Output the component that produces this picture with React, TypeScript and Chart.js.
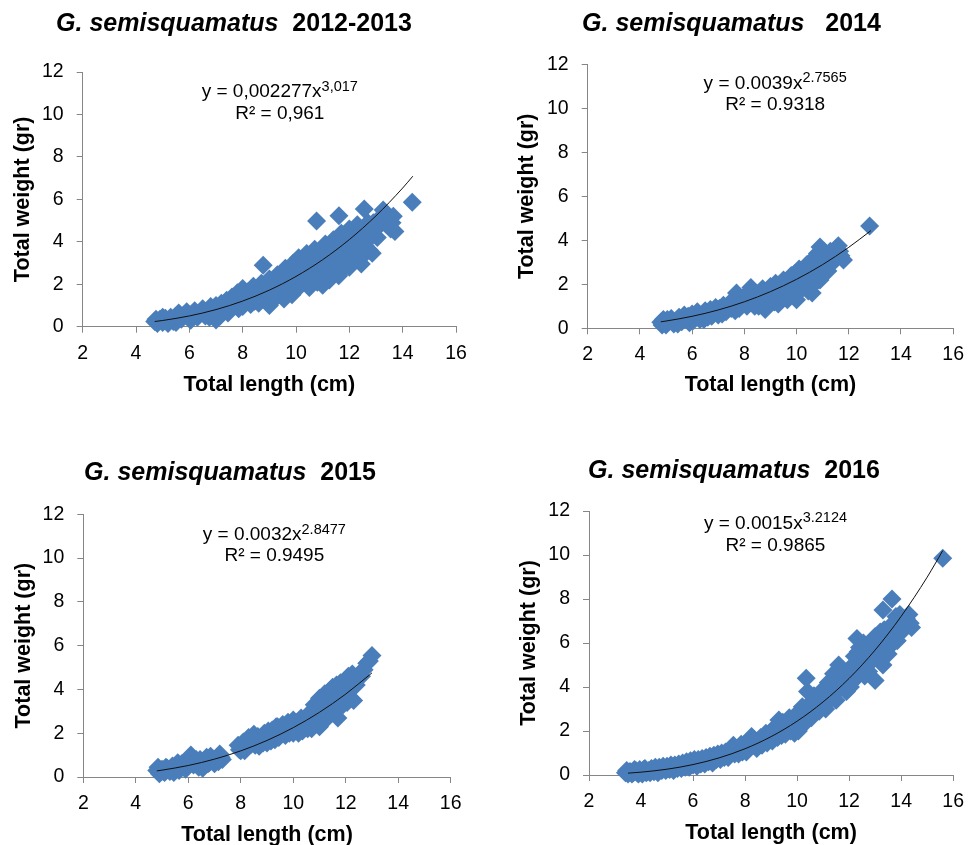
import React, { useEffect, useRef } from "react";
import { Chart, registerables } from "chart.js";

Chart.register(...registerables);

const FONT = '"Liberation Sans", Arial, sans-serif';
const BLUE = "#4a7ebb";
const AXIS = "#868686";

const xTicks = { min: 2, max: 16, step: 2 };
const yTicks = { min: 0, max: 12, step: 2 };
const xAxisTitle = "Total length (cm)";
const yAxisTitle = "Total weight (gr)";
const speciesName = "G. semisquamatus";

// ---- 2012-2013 ----
const points2012: [number, number][] = [
  [4.7, 0.25], [4.8, 0.15], [4.9, 0.35], [5.0, 0.2], [5.1, 0.4], [5.2, 0.15], [5.3, 0.45], [5.4, 0.25],
  [5.5, 0.5], [5.6, 0.65], [5.7, 0.35], [5.8, 0.55], [5.9, 0.7], [6.0, 0.4], [6.1, 0.6], [6.2, 0.75],
  [6.3, 0.45], [6.4, 0.65], [6.5, 0.85], [6.6, 0.5], [6.7, 0.7], [6.8, 0.95], [6.9, 0.55], [7.0, 0.32],
  [7.0, 1.0], [7.1, 0.75], [7.2, 1.1], [7.3, 0.8], [7.4, 1.25], [7.5, 0.9], [7.6, 1.4], [7.7, 1.05],
  [7.8, 1.6], [7.9, 1.2], [8.0, 1.8], [8.0, 0.95], [8.1, 1.35], [8.2, 1.65], [8.3, 1.05], [8.4, 1.9],
  [8.5, 1.45], [8.6, 1.1], [8.7, 2.05], [8.77, 2.9], [8.8, 1.6], [8.9, 1.2], [9.0, 2.25], [9.0, 1.0],
  [9.1, 1.8], [9.2, 1.4], [9.3, 2.45], [9.4, 2.0], [9.5, 1.6], [9.6, 2.75], [9.7, 2.2], [9.8, 1.8],
  [9.9, 3.0], [10.0, 2.5], [10.0, 1.75], [10.1, 3.25], [10.2, 2.1], [10.3, 2.8], [10.4, 3.45], [10.5, 1.85],
  [10.5, 2.5], [10.6, 3.05], [10.7, 3.65], [10.77, 4.98], [10.8, 2.1], [10.9, 2.8], [11.0, 3.5], [11.0, 1.95],
  [11.1, 3.9], [11.2, 2.5], [11.3, 3.2], [11.4, 4.1], [11.5, 2.65], [11.61, 5.23], [11.6, 3.6], [11.6, 2.4],
  [11.7, 4.4], [11.8, 3.0], [11.9, 3.9], [12.0, 4.6], [12.0, 2.8], [12.1, 3.4], [12.2, 4.2], [12.3, 4.8],
  [12.4, 3.2], [12.45, 2.95], [12.5, 4.4], [12.56, 5.55], [12.6, 3.8], [12.7, 4.9], [12.8, 4.2], [12.86, 3.46],
  [13.0, 4.6], [13.1, 5.0], [13.27, 5.5], [13.4, 4.8], [13.5, 5.1], [13.6, 4.9], [13.71, 4.48], [14.36, 5.86],
  [4.75, 0.35], [5.0, 0.45], [5.25, 0.3], [5.5, 0.2], [5.75, 0.5], [6.05, 0.3], [6.25, 0.55], [6.55, 0.6],
  [6.75, 0.45], [6.95, 0.8], [7.15, 0.5], [7.35, 1.0], [7.45, 0.65], [7.65, 1.2], [7.85, 0.85], [8.05, 1.5],
  [8.25, 1.25], [8.45, 1.2], [8.55, 1.75], [8.75, 1.35], [8.95, 1.6], [9.05, 1.95], [9.15, 1.25], [9.35, 1.75],
  [9.45, 2.3], [9.55, 1.3], [9.65, 2.0], [9.75, 2.5], [9.85, 1.5], [9.95, 2.3], [10.05, 2.8], [10.15, 1.9],
  [10.25, 2.5], [10.35, 3.1], [10.45, 2.2], [10.55, 3.3], [10.65, 2.4], [10.75, 2.9], [10.85, 3.5], [10.95, 2.3],
  [11.05, 3.1], [11.15, 3.6], [11.25, 2.2], [11.35, 2.9], [11.45, 3.7], [11.55, 3.1], [11.65, 4.0], [11.75, 2.7],
  [11.85, 3.5], [11.95, 4.3], [12.05, 3.1], [12.15, 3.9], [12.25, 4.6], [12.35, 3.6], [12.45, 4.1], [12.65, 4.4],
  [12.75, 3.6], [12.9, 4.9], [13.05, 4.2], [13.2, 5.2], [13.35, 5.25], [13.55, 4.6], [13.65, 5.2],
];
const trendX2012 = [4.7, 5, 6, 7, 8, 9, 10, 11, 12, 13, 14, 14.38];
const trendY2012 = [0.243, 0.293, 0.507, 0.807, 1.208, 1.723, 2.368, 3.157, 4.105, 5.225, 6.534, 7.09];

// ---- 2014 ----
const points2014: [number, number][] = [
  [4.8, 0.27], [4.9, 0.4], [5.0, 0.15], [5.1, 0.3], [5.2, 0.45], [5.3, 0.2], [5.4, 0.35], [5.5, 0.5],
  [5.6, 0.3], [5.7, 0.6], [5.8, 0.4], [5.9, 0.25], [6.0, 0.65], [6.1, 0.5], [6.2, 0.75], [6.3, 0.4],
  [6.4, 0.6], [6.5, 0.8], [6.6, 0.5], [6.7, 0.85], [6.8, 0.65], [6.9, 0.95], [7.0, 0.6], [7.1, 0.85],
  [7.2, 1.05], [7.3, 0.75], [7.4, 1.1], [7.5, 0.9], [7.6, 1.3], [7.7, 1.6], [7.8, 0.9], [7.9, 1.2],
  [8.0, 1.45], [8.1, 1.0], [8.25, 1.85], [8.3, 1.3], [8.4, 1.0], [8.5, 1.55], [8.6, 1.2], [8.7, 1.8],
  [8.8, 0.85], [8.9, 1.5], [9.0, 1.15], [9.0, 1.9], [9.1, 1.4], [9.2, 2.05], [9.3, 1.1], [9.4, 1.7],
  [9.5, 2.2], [9.6, 1.45], [9.7, 1.9], [9.8, 2.4], [9.9, 1.6], [10.0, 1.3], [10.0, 2.1], [10.1, 2.7],
  [10.2, 1.8], [10.3, 2.4], [10.4, 2.9], [10.5, 2.0], [10.6, 1.6], [10.6, 3.1], [10.7, 2.5], [10.8, 3.4],
  [10.9, 3.7], [10.9, 2.2], [11.0, 2.9], [11.1, 3.3], [11.2, 2.6], [11.3, 3.5], [11.4, 3.0], [11.5, 3.6],
  [11.6, 3.75], [11.7, 3.3], [11.8, 3.1], [12.8, 4.65],
  [4.85, 0.15], [5.05, 0.4], [5.25, 0.3], [5.45, 0.2], [5.65, 0.45], [5.85, 0.55], [6.05, 0.35], [6.25, 0.55],
  [6.45, 0.4], [6.55, 0.65], [6.75, 0.55], [6.85, 0.75], [7.05, 0.9], [7.15, 0.65], [7.35, 0.95], [7.55, 1.1],
  [7.65, 0.8], [7.75, 1.35], [7.85, 1.1], [8.05, 1.25], [8.15, 1.6], [8.35, 1.55], [8.45, 1.25], [8.55, 1.0],
  [8.65, 1.5], [8.75, 1.1], [8.85, 1.7], [8.95, 1.35], [9.05, 1.6], [9.15, 1.2], [9.25, 1.8], [9.35, 1.45],
  [9.45, 1.95], [9.55, 1.75], [9.65, 1.3], [9.75, 2.15], [9.85, 1.85], [9.95, 2.5], [10.05, 1.6], [10.15, 2.3],
  [10.25, 2.05], [10.35, 2.65], [10.45, 1.7], [10.55, 2.5], [10.65, 2.8], [10.75, 2.1], [10.85, 3.0], [10.95, 2.6],
  [11.05, 3.5], [11.15, 2.8], [11.25, 3.1], [11.35, 3.3], [11.45, 3.4], [11.55, 3.2], [11.65, 3.5],
];
const trendX2014 = [4.8, 5, 6, 7, 8, 9, 10, 11, 12, 12.85];
const trendY2014 = [0.294, 0.33, 0.545, 0.833, 1.204, 1.666, 2.227, 2.895, 3.68, 4.44];

// ---- 2015 ----
const points2015: [number, number][] = [
  [4.8, 0.3], [4.9, 0.15], [5.0, 0.35], [5.1, 0.2], [5.2, 0.4], [5.3, 0.25], [5.4, 0.5], [5.5, 0.3],
  [5.6, 0.65], [5.7, 0.4], [5.8, 0.5], [5.9, 0.35], [6.0, 0.7], [6.1, 1.0], [6.2, 0.55], [6.3, 0.8],
  [6.4, 0.45], [6.5, 0.7], [6.6, 0.55], [6.7, 0.9], [6.8, 0.65], [6.9, 0.8], [7.0, 0.6], [7.1, 0.9],
  [7.2, 1.05], [7.3, 0.8], [7.9, 1.45], [8.0, 1.2], [8.1, 1.6], [8.2, 1.35], [8.3, 1.8], [8.4, 1.5],
  [8.5, 1.95], [8.6, 1.6], [8.7, 1.4], [8.8, 1.8], [8.9, 2.0], [9.0, 1.55], [9.1, 1.85], [9.2, 2.15],
  [9.3, 1.7], [9.4, 2.3], [9.5, 2.0], [9.6, 2.4], [9.7, 1.9], [9.8, 2.5], [9.9, 2.2], [10.0, 2.0],
  [10.0, 2.6], [10.1, 2.3], [10.2, 2.0], [10.3, 2.7], [10.4, 2.2], [10.5, 2.5], [10.6, 2.9], [10.7, 2.2],
  [10.8, 3.3], [10.9, 2.6], [11.0, 3.6], [11.0, 2.3], [11.1, 3.0], [11.2, 3.8], [11.3, 2.7], [11.4, 3.4],
  [11.5, 4.1], [11.6, 3.0], [11.7, 2.7], [11.7, 3.8], [11.8, 4.3], [11.9, 3.3], [12.0, 4.0], [12.1, 4.6],
  [12.2, 3.6], [12.3, 3.5], [12.3, 4.4], [12.5, 4.7], [12.7, 4.9], [12.8, 5.2], [13.0, 5.55],
  [4.85, 0.45], [5.05, 0.25], [5.15, 0.45], [5.35, 0.4], [5.45, 0.2], [5.65, 0.3], [5.75, 0.6], [5.95, 0.55],
  [6.15, 0.75], [6.35, 0.6], [6.45, 0.8], [6.55, 0.4], [6.75, 0.6], [6.85, 0.95], [7.05, 0.8], [7.15, 0.7],
  [7.25, 0.9], [7.95, 1.25], [8.05, 1.45], [8.15, 1.2], [8.25, 1.6], [8.35, 1.5], [8.45, 1.75], [8.55, 1.45],
  [8.65, 1.85], [8.75, 1.65], [8.85, 1.55], [8.95, 1.8], [9.05, 2.1], [9.15, 1.65], [9.25, 1.95], [9.35, 2.3],
  [9.45, 1.8], [9.55, 2.3], [9.65, 2.15], [9.75, 2.4], [9.85, 2.0], [9.95, 2.45], [10.05, 2.15], [10.15, 2.5],
  [10.25, 2.3], [10.35, 2.1], [10.45, 2.6], [10.55, 2.2], [10.65, 2.5], [10.75, 2.9], [10.85, 2.4], [10.95, 3.2],
  [11.05, 2.8], [11.15, 3.4], [11.25, 3.2], [11.35, 3.9], [11.45, 2.9], [11.55, 3.6], [11.65, 4.2], [11.75, 3.3],
  [11.85, 3.7], [11.95, 4.4], [12.05, 3.4], [12.15, 4.1], [12.25, 4.7], [12.4, 4.2], [12.6, 4.6], [12.9, 5.3],
];
const trendX2015 = [4.8, 5, 6, 7, 8, 9, 10, 11, 12, 13];
const trendY2015 = [0.279, 0.313, 0.526, 0.816, 1.194, 1.669, 2.254, 2.956, 3.788, 4.757];

// ---- 2016 ----
const points2016: [number, number][] = [
  [3.4, 0.1], [3.5, 0.05], [3.6, 0.15], [3.7, 0.1], [3.8, 0.2], [3.9, 0.05], [4.0, 0.15], [4.1, 0.25],
  [4.2, 0.1], [4.3, 0.2], [4.4, 0.3], [4.5, 0.15], [4.6, 0.25], [4.7, 0.35], [4.8, 0.2], [4.9, 0.3],
  [5.0, 0.4], [5.1, 0.25], [5.2, 0.35], [5.3, 0.45], [5.4, 0.3], [5.5, 0.4], [5.6, 0.55], [5.7, 0.35],
  [5.8, 0.5], [5.9, 0.65], [6.0, 0.45], [6.1, 0.6], [6.2, 0.7], [6.3, 0.5], [6.4, 0.65], [6.5, 0.8],
  [6.6, 0.6], [6.7, 0.75], [6.8, 0.9], [6.9, 0.7], [7.0, 0.85], [7.1, 1.0], [7.2, 0.8], [7.3, 0.95],
  [7.4, 1.15], [7.55, 1.35], [7.6, 0.95], [7.7, 1.1], [7.8, 1.25], [7.9, 1.05], [8.0, 1.4], [8.1, 1.2],
  [8.25, 1.75], [8.3, 1.35], [8.4, 1.55], [8.5, 1.3], [8.6, 1.7], [8.7, 1.5], [8.8, 1.9], [8.9, 1.6],
  [9.0, 2.0], [9.1, 1.7], [9.2, 2.2], [9.3, 2.5], [9.4, 1.8], [9.5, 2.3], [9.6, 2.0], [9.7, 2.6],
  [9.8, 2.2], [9.9, 1.9], [10.0, 2.8], [10.1, 2.4], [10.2, 3.1], [10.3, 2.6], [10.35, 4.4], [10.4, 3.8],
  [10.5, 2.8], [10.6, 3.3], [10.7, 3.0], [10.8, 3.6], [10.9, 3.2], [11.0, 3.9], [11.1, 3.0], [11.2, 4.2],
  [11.3, 3.6], [11.4, 4.6], [11.5, 3.4], [11.6, 5.0], [11.7, 4.0], [11.8, 4.4], [11.9, 3.8], [12.0, 4.8],
  [12.1, 4.2], [12.2, 5.4], [12.3, 6.2], [12.3, 4.6], [12.4, 5.8], [12.5, 5.0], [12.6, 4.5], [12.7, 5.6],
  [12.8, 6.0], [12.9, 5.2], [13.0, 4.3], [13.0, 6.3], [13.1, 5.7], [13.2, 6.5], [13.3, 7.5], [13.3, 5.0],
  [13.4, 6.2], [13.5, 5.5], [13.6, 6.8], [13.65, 8.0], [13.7, 6.0], [13.8, 7.2], [13.9, 6.5], [14.0, 7.0],
  [14.1, 6.6], [14.3, 7.3], [14.4, 6.7], [15.6, 9.85],
  [3.45, 0.2], [3.55, 0.15], [3.65, 0.05], [3.75, 0.25], [3.85, 0.1], [3.95, 0.25], [4.05, 0.05], [4.15, 0.3],
  [4.25, 0.15], [4.35, 0.1], [4.45, 0.25], [4.55, 0.35], [4.65, 0.1], [4.75, 0.25], [4.85, 0.4], [4.95, 0.2],
  [5.05, 0.3], [5.15, 0.45], [5.25, 0.2], [5.35, 0.35], [5.45, 0.5], [5.55, 0.3], [5.65, 0.45], [5.75, 0.6],
  [5.85, 0.35], [5.95, 0.5], [6.05, 0.7], [6.15, 0.4], [6.25, 0.55], [6.35, 0.75], [6.45, 0.5], [6.55, 0.65],
  [6.65, 0.85], [6.75, 0.55], [6.85, 0.75], [6.95, 0.95], [7.05, 0.7], [7.15, 0.85], [7.25, 1.05], [7.35, 0.8],
  [7.45, 1.0], [7.65, 1.2], [7.75, 0.95], [7.85, 1.4], [7.95, 1.2], [8.05, 1.05], [8.15, 1.5], [8.35, 1.6],
  [8.45, 1.2], [8.55, 1.5], [8.65, 1.35], [8.75, 1.75], [8.85, 1.45], [8.95, 1.8], [9.05, 1.55], [9.15, 1.95],
  [9.25, 1.7], [9.35, 2.1], [9.45, 2.4], [9.55, 1.85], [9.65, 2.3], [9.75, 2.0], [9.85, 2.5], [9.95, 2.3],
  [10.05, 2.0], [10.15, 2.7], [10.25, 2.3], [10.45, 3.2], [10.55, 2.6], [10.65, 3.6], [10.75, 3.3], [10.85, 2.9],
  [10.95, 3.5], [11.05, 3.3], [11.15, 3.8], [11.25, 3.4], [11.35, 4.1], [11.45, 3.7], [11.55, 4.4], [11.65, 4.0],
  [11.75, 4.8], [11.85, 4.2], [11.95, 4.5], [12.05, 4.0], [12.15, 5.0], [12.25, 4.4], [12.35, 5.6], [12.45, 5.2],
  [12.55, 6.0], [12.65, 5.3], [12.75, 4.7], [12.85, 5.7], [12.95, 6.1], [13.05, 5.4], [13.15, 6.0], [13.25, 5.5],
  [13.35, 6.6], [13.45, 5.8], [13.55, 6.3], [13.75, 6.6], [13.85, 6.1], [13.95, 7.3], [14.05, 6.8], [14.2, 7.1],
  [14.35, 6.9],
];
const trendX2016 = [3.5, 4, 5, 6, 7, 8, 9, 10, 11, 12, 13, 14, 15, 15.6];
const trendY2016 = [0.084, 0.129, 0.264, 0.474, 0.778, 1.194, 1.744, 2.446, 3.322, 4.39, 5.68, 7.21, 8.99, 10.2];

type Panel = {
  year: string;
  gap: string;
  points: [number, number][];
  trendX: number[];
  trendY: number[];
  eqMain: string;
  eqSup: string;
  eqR2: string;
  box: { left: number; top: number; w: number; h: number };
  plot: { left: number; right: number; top: number; bottom: number };
  yTitleX: number;
  xTitleY: number;
  titleCX: number;
  titleCY: number;
  eqFx: number;
  eqDy1: number;
  eqDy2: number;
};

const panels: Panel[] = [
  {
    year: "2012-2013", gap: "  ", points: points2012, trendX: trendX2012, trendY: trendY2012,
    eqMain: "y = 0,002277x", eqSup: "3,017", eqR2: "R² = 0,961",
    box: { left: 0, top: 0, w: 486, h: 420 },
    plot: { left: 82.7, right: 456, top: 72, bottom: 326.7 },
    yTitleX: 23, xTitleY: 385, titleCX: 234, titleCY: 23.3, eqFx: 0.528, eqDy1: 19.7, eqDy2: 41.3,
  },
  {
    year: "2014", gap: "   ", points: points2014, trendX: trendX2014, trendY: trendY2014,
    eqMain: "y = 0.0039x", eqSup: "2.7565", eqR2: "R² = 0.9318",
    box: { left: 486, top: 0, w: 487, h: 420 },
    plot: { left: 587.7, right: 954, top: 64.3, bottom: 328.3 },
    yTitleX: 527.5, xTitleY: 385, titleCX: 731.5, titleCY: 23.3, eqFx: 0.513, eqDy1: 19, eqDy2: 40.7,
  },
  {
    year: "2015", gap: "  ", points: points2015, trendX: trendX2015, trendY: trendY2015,
    eqMain: "y = 0.0032x", eqSup: "2.8477", eqR2: "R² = 0.9495",
    box: { left: 0, top: 420, w: 486, h: 432 },
    plot: { left: 83.3, right: 450.7, top: 514.3, bottom: 777 },
    yTitleX: 24, xTitleY: 835, titleCX: 230, titleCY: 471.7, eqFx: 0.52, eqDy1: 20.7, eqDy2: 41.4,
  },
  {
    year: "2016", gap: "  ", points: points2016, trendX: trendX2016, trendY: trendY2016,
    eqMain: "y = 0.0015x", eqSup: "3.2124", eqR2: "R² = 0.9865",
    box: { left: 486, top: 420, w: 487, h: 432 },
    plot: { left: 589, right: 955.7, top: 511, bottom: 775 },
    yTitleX: 529, xTitleY: 833, titleCX: 734, titleCY: 470, eqFx: 0.512, eqDy1: 12.3, eqDy2: 34.7,
  },
];

const TICK_SIZE = 19.5;
const AXIS_TITLE_SIZE = 21.5;
const EQ_SIZE = 19;
const SUP_SIZE = 14.5;
const TITLE_SIZE = 25;

const eqPlugin = {
  id: "equation",
  afterDatasetsDraw(chart: any, _args: any, opts: any) {
    const { ctx, chartArea } = chart;
    const cx = chartArea.left + opts.fx * (chartArea.right - chartArea.left);
    const mainFont = `${EQ_SIZE}px ${FONT}`;
    const supFont = `${SUP_SIZE}px ${FONT}`;
    ctx.save();
    ctx.fillStyle = "#000";
    ctx.textBaseline = "middle";
    ctx.font = mainFont;
    const mw = ctx.measureText(opts.main).width;
    ctx.font = supFont;
    const sw = ctx.measureText(opts.sup).width;
    const start = cx - (mw + sw) / 2;
    const y1 = chartArea.top + opts.dy1;
    ctx.textAlign = "left";
    ctx.font = mainFont;
    ctx.fillText(opts.main, start, y1);
    ctx.font = supFont;
    ctx.fillText(opts.sup, start + mw, y1 - 5);
    ctx.font = mainFont;
    ctx.textAlign = "center";
    ctx.fillText(opts.r2, cx, chartArea.top + opts.dy2);
    ctx.restore();
  },
};

function PanelChart({ p }: { p: Panel }) {
  const ref = useRef<HTMLCanvasElement>(null);
  useEffect(() => {
    const lh = AXIS_TITLE_SIZE * 1.2;
    const padLeft = p.yTitleX - lh / 2 - p.box.left;
    const yW = p.plot.left - p.box.left - padLeft;
    const padTop = p.plot.top - p.box.top;
    const padRight = p.box.left + p.box.w - p.plot.right;
    const xH = p.xTitleY + lh / 2 - p.plot.bottom;
    const padBottom = p.box.top + p.box.h - p.plot.bottom - xH;

    const tickFont = { family: FONT, size: TICK_SIZE };
    const titleFont = { family: FONT, size: AXIS_TITLE_SIZE, weight: "bold" as const };

    const chart = new Chart(ref.current!, {
      type: "scatter",
      data: {
        datasets: [
          {
            label: "trend",
            data: p.trendX.map((x, i) => ({ x, y: p.trendY[i] })),
            showLine: true,
            borderColor: "#111",
            borderWidth: 1,
            pointRadius: 0,
            cubicInterpolationMode: "monotone",
            fill: false,
          } as any,
          {
            label: "data",
            data: p.points.map(([x, y]) => ({ x, y })),
            showLine: false,
            pointStyle: "rectRot",
            pointRadius: 9.5,
            backgroundColor: BLUE,
            borderColor: BLUE,
            borderWidth: 0,
            clip: false,
          } as any,
        ],
      },
      options: {
        animation: false,
        responsive: false,
        events: [],
        layout: { padding: { left: padLeft, top: padTop, right: padRight, bottom: padBottom } },
        plugins: {
          legend: { display: false },
          tooltip: { enabled: false },
          equation: { fx: p.eqFx, dy1: p.eqDy1, dy2: p.eqDy2, main: p.eqMain, sup: p.eqSup, r2: p.eqR2 },
        } as any,
        scales: {
          x: {
            type: "linear",
            min: xTicks.min,
            max: xTicks.max,
            ticks: { stepSize: xTicks.step, color: "#000", font: tickFont, padding: 9 },
            grid: { drawOnChartArea: false, drawTicks: true, tickLength: 6, color: AXIS },
            border: { display: true, color: AXIS, width: 1 },
            title: { display: true, text: xAxisTitle, color: "#000", font: titleFont, padding: 0 },
            afterFit: (s: any) => { s.height = xH; },
          },
          y: {
            type: "linear",
            min: yTicks.min,
            max: yTicks.max,
            ticks: { stepSize: yTicks.step, color: "#000", font: tickFont, padding: 13 },
            grid: { drawOnChartArea: false, drawTicks: true, tickLength: 6, color: AXIS },
            border: { display: true, color: AXIS, width: 1 },
            title: { display: true, text: yAxisTitle, color: "#000", font: titleFont, padding: 0 },
            afterFit: (s: any) => { s.width = yW; },
          },
        },
      },
      plugins: [eqPlugin],
    });
    return () => chart.destroy();
  }, [p]);

  return (
    <canvas
      ref={ref}
      width={p.box.w}
      height={p.box.h}
      style={{ position: "absolute", left: p.box.left, top: p.box.top, width: p.box.w, height: p.box.h }}
    />
  );
}

export default function App() {
  return (
    <div style={{ position: "absolute", left: 0, top: 0, width: 973, height: 845, overflow: "hidden", background: "#fff" }}>
      {panels.map((p) => (
        <PanelChart key={p.year} p={p} />
      ))}
      {panels.map((p) => (
        <div
          key={"t" + p.year}
          style={{
            position: "absolute",
            left: p.titleCX - 250,
            width: 500,
            top: p.titleCY - 15,
            height: 30,
            lineHeight: "30px",
            textAlign: "center",
            whiteSpace: "pre",
            font: `bold ${TITLE_SIZE}px ${FONT}`,
            color: "#000",
          }}
        >
          <i>{speciesName}</i>
          {p.gap}
          {p.year}
        </div>
      ))}
    </div>
  );
}
